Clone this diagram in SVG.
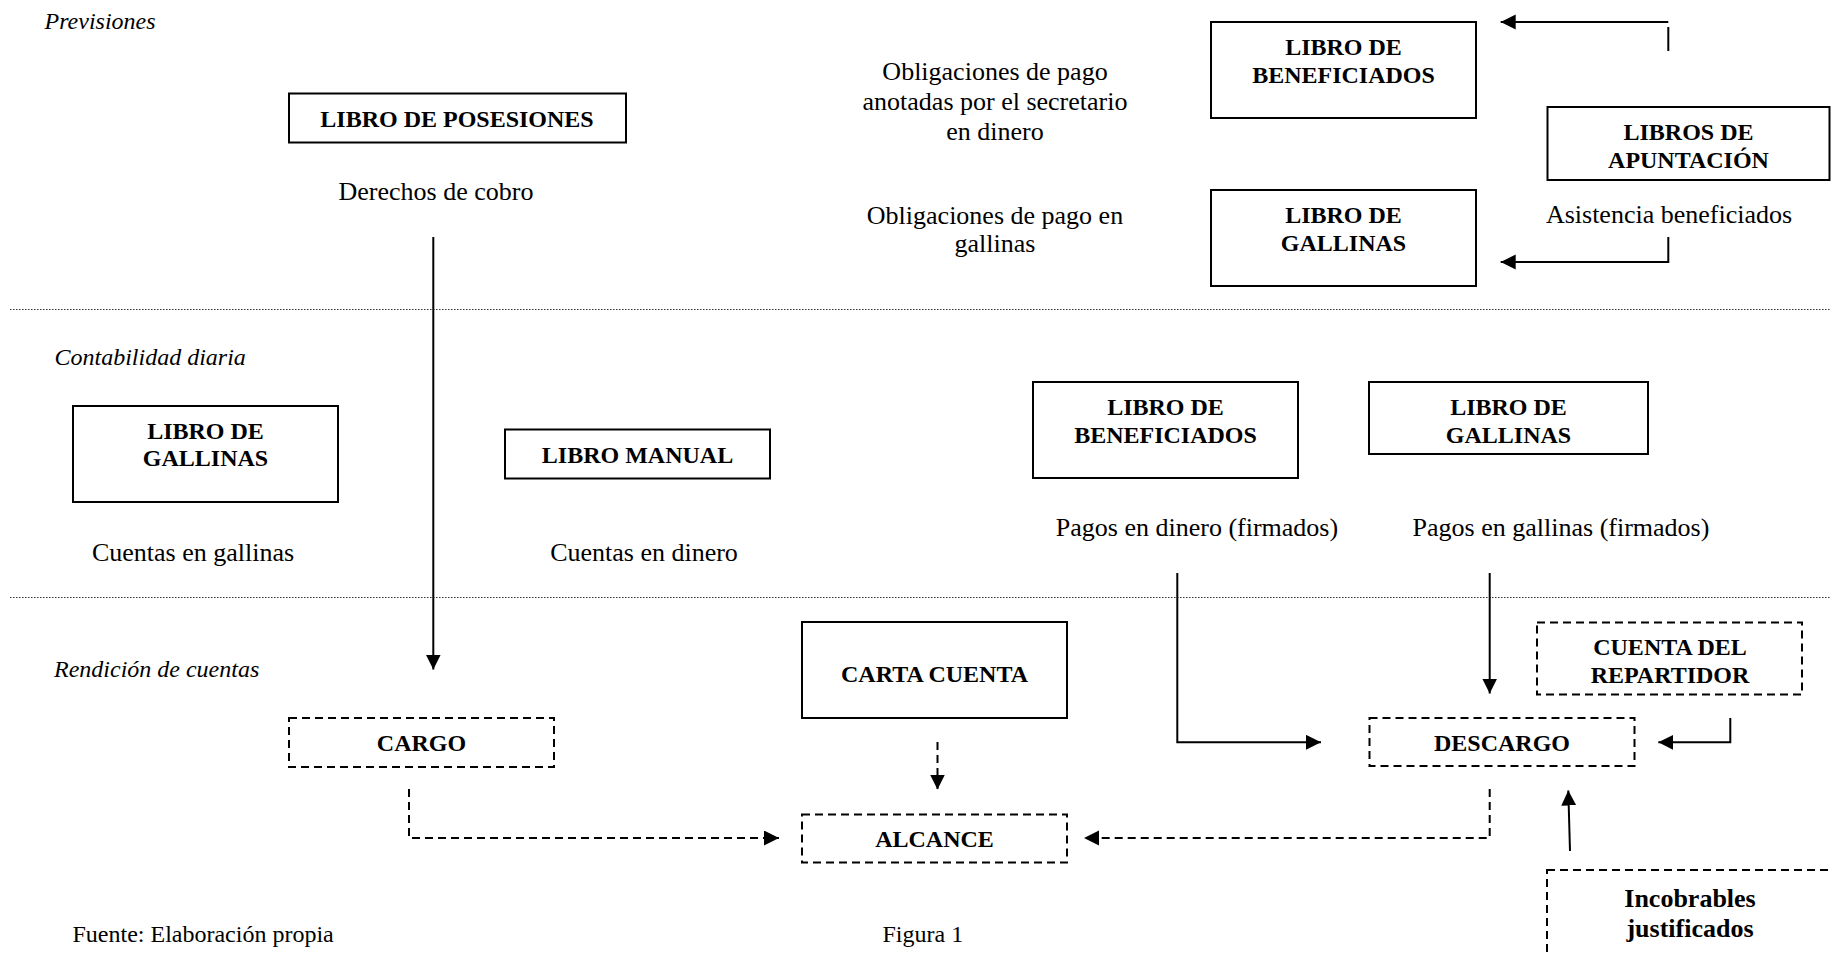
<svg xmlns="http://www.w3.org/2000/svg" width="1831" height="954" viewBox="0 0 1831 954">
<style>
  .bg { fill: #ffffff; }
  .box { fill: none; stroke: #000; stroke-width: 2; }
  .dbox { fill: none; stroke: #000; stroke-width: 2; stroke-dasharray: 8 5; }
  .sep { stroke: #333; stroke-width: 1.2; stroke-dasharray: 1.5 1.5; fill: none; }
  .con { fill: none; stroke: #000; stroke-width: 2; }
  .dcon { fill: none; stroke: #000; stroke-width: 2; stroke-dasharray: 8 5; }
  .lbl { font-family: "Liberation Serif", "Times New Roman", serif; font-weight: bold; font-size: 24px; fill: #000; text-anchor: middle; }
  .lbl26 { font-family: "Liberation Serif", "Times New Roman", serif; font-weight: bold; font-size: 26px; fill: #000; text-anchor: middle; }
  .txt { font-family: "Liberation Serif", "Times New Roman", serif; font-size: 26px; fill: #000; text-anchor: middle; }
  .sec { font-family: "Liberation Serif", "Times New Roman", serif; font-style: italic; font-size: 24px; fill: #000; }
  .foot { font-family: "Liberation Serif", "Times New Roman", serif; font-size: 24px; fill: #000; }
</style>
<defs>
  <marker id="ah" markerUnits="userSpaceOnUse" markerWidth="16" markerHeight="16" refX="15" refY="7.5" orient="auto">
    <path d="M0,0 L15,7.5 L0,15 z" fill="#000"/>
  </marker>
</defs>
<rect class="bg" x="0" y="0" width="1831" height="954"/>

<g id="sections">
  <line class="sep" x1="10" y1="309.5" x2="1831" y2="309.5"/>
  <line class="sep" x1="10" y1="597.5" x2="1831" y2="597.5"/>
  <text class="sec" x="44.5" y="29">Previsiones</text>
  <text class="sec" x="54.5" y="365">Contabilidad diaria</text>
  <text class="sec" x="54" y="677">Rendición de cuentas</text>
  <text class="foot" x="72.5" y="942">Fuente: Elaboración propia</text>
  <text class="foot" x="882.5" y="942">Figura 1</text>
</g>

<g id="connectors">
  <line class="con" x1="433.3" y1="237" x2="433.3" y2="669.5" marker-end="url(#ah)"/>
  <line class="con" x1="1668.3" y1="27" x2="1668.3" y2="51" stroke-width="1.6"/>
  <line class="con" x1="1668.3" y1="22" x2="1500.7" y2="22" marker-end="url(#ah)"/>
  <path class="con" d="M1668.3,237 V262 H1500.7" marker-end="url(#ah)"/>
  <path class="con" d="M1177.3,573 V742.3 H1321" marker-end="url(#ah)"/>
  <line class="con" x1="1489.7" y1="573" x2="1489.7" y2="693.5" marker-end="url(#ah)"/>
  <path class="con" d="M1730.3,718 V742.3 H1658.3" marker-end="url(#ah)"/>
  <line class="con" x1="1570" y1="851" x2="1568.3" y2="790.5" marker-end="url(#ah)"/>
  <line class="dcon" x1="937.5" y1="742" x2="937.5" y2="789.5" marker-end="url(#ah)"/>
  <path class="dcon" d="M409,789 V838 H779" marker-end="url(#ah)"/>
  <path class="dcon" d="M1489.7,789 V838 H1084" marker-end="url(#ah)"/>
</g>

<g id="libro-posesiones">
  <rect class="box" x="289" y="93.5" width="337" height="49"/>
  <text class="lbl" x="457" y="127">LIBRO DE POSESIONES</text>
</g>
<g id="derechos-cobro">
  <text class="txt" x="436" y="200">Derechos de cobro</text>
</g>
<g id="obligaciones-dinero">
  <text class="txt" x="995" y="80">Obligaciones de pago</text>
  <text class="txt" x="995" y="110">anotadas por el secretario</text>
  <text class="txt" x="995" y="140">en dinero</text>
</g>
<g id="libro-beneficiados-prev">
  <rect class="box" x="1211" y="22" width="265" height="96"/>
  <text class="lbl" x="1343.5" y="55">LIBRO DE</text>
  <text class="lbl" x="1343.5" y="83">BENEFICIADOS</text>
</g>
<g id="libros-apuntacion">
  <rect class="box" x="1547.5" y="107" width="282" height="73"/>
  <text class="lbl" x="1688.5" y="139.5">LIBROS DE</text>
  <text class="lbl" x="1688.5" y="167.5">APUNTACIÓN</text>
</g>
<g id="libro-gallinas-prev">
  <rect class="box" x="1211" y="190" width="265" height="96"/>
  <text class="lbl" x="1343.5" y="223">LIBRO DE</text>
  <text class="lbl" x="1343.5" y="250.5">GALLINAS</text>
</g>
<g id="obligaciones-gallinas">
  <text class="txt" x="995" y="224">Obligaciones de pago en</text>
  <text class="txt" x="995" y="252">gallinas</text>
</g>
<g id="asistencia">
  <text class="txt" x="1669" y="223">Asistencia beneficiados</text>
</g>

<g id="libro-gallinas-diaria">
  <rect class="box" x="73" y="406" width="265" height="96"/>
  <text class="lbl" x="205.5" y="438.5">LIBRO DE</text>
  <text class="lbl" x="205.5" y="466">GALLINAS</text>
</g>
<g id="libro-manual">
  <rect class="box" x="505" y="429.5" width="265" height="49"/>
  <text class="lbl" x="637.5" y="463">LIBRO MANUAL</text>
</g>
<g id="cuentas-gallinas">
  <text class="txt" x="193" y="560.5">Cuentas en gallinas</text>
</g>
<g id="cuentas-dinero">
  <text class="txt" x="644" y="560.5">Cuentas en dinero</text>
</g>
<g id="libro-beneficiados-diaria">
  <rect class="box" x="1033" y="382" width="265" height="96"/>
  <text class="lbl" x="1165.5" y="415">LIBRO DE</text>
  <text class="lbl" x="1165.5" y="443">BENEFICIADOS</text>
</g>
<g id="libro-gallinas-pagos">
  <rect class="box" x="1369" y="382" width="279" height="72"/>
  <text class="lbl" x="1508.5" y="415">LIBRO DE</text>
  <text class="lbl" x="1508.5" y="443">GALLINAS</text>
</g>
<g id="pagos-dinero">
  <text class="txt" x="1197" y="536">Pagos en dinero (firmados)</text>
</g>
<g id="pagos-gallinas">
  <text class="txt" x="1561" y="536">Pagos en gallinas (firmados)</text>
</g>

<g id="carta-cuenta">
  <rect class="box" x="802" y="622" width="265" height="96"/>
  <text class="lbl" x="934.5" y="682">CARTA CUENTA</text>
</g>
<g id="cargo">
  <rect class="dbox" x="289" y="718" width="265" height="49"/>
  <text class="lbl" x="421.5" y="751">CARGO</text>
</g>
<g id="alcance">
  <rect class="dbox" x="802" y="814.5" width="265" height="48"/>
  <text class="lbl" x="934.5" y="847">ALCANCE</text>
</g>
<g id="descargo">
  <rect class="dbox" x="1369.5" y="718" width="265" height="48"/>
  <text class="lbl" x="1502" y="751">DESCARGO</text>
</g>
<g id="cuenta-repartidor">
  <rect class="dbox" x="1537" y="622.5" width="265" height="72"/>
  <text class="lbl" x="1670" y="655">CUENTA DEL</text>
  <text class="lbl" x="1670" y="683">REPARTIDOR</text>
</g>
<g id="incobrables">
  <rect class="dbox" x="1547" y="870" width="400" height="200"/>
  <text class="lbl26" x="1690" y="907">Incobrables</text>
  <text class="lbl26" x="1690" y="937">justificados</text>
</g>
</svg>
